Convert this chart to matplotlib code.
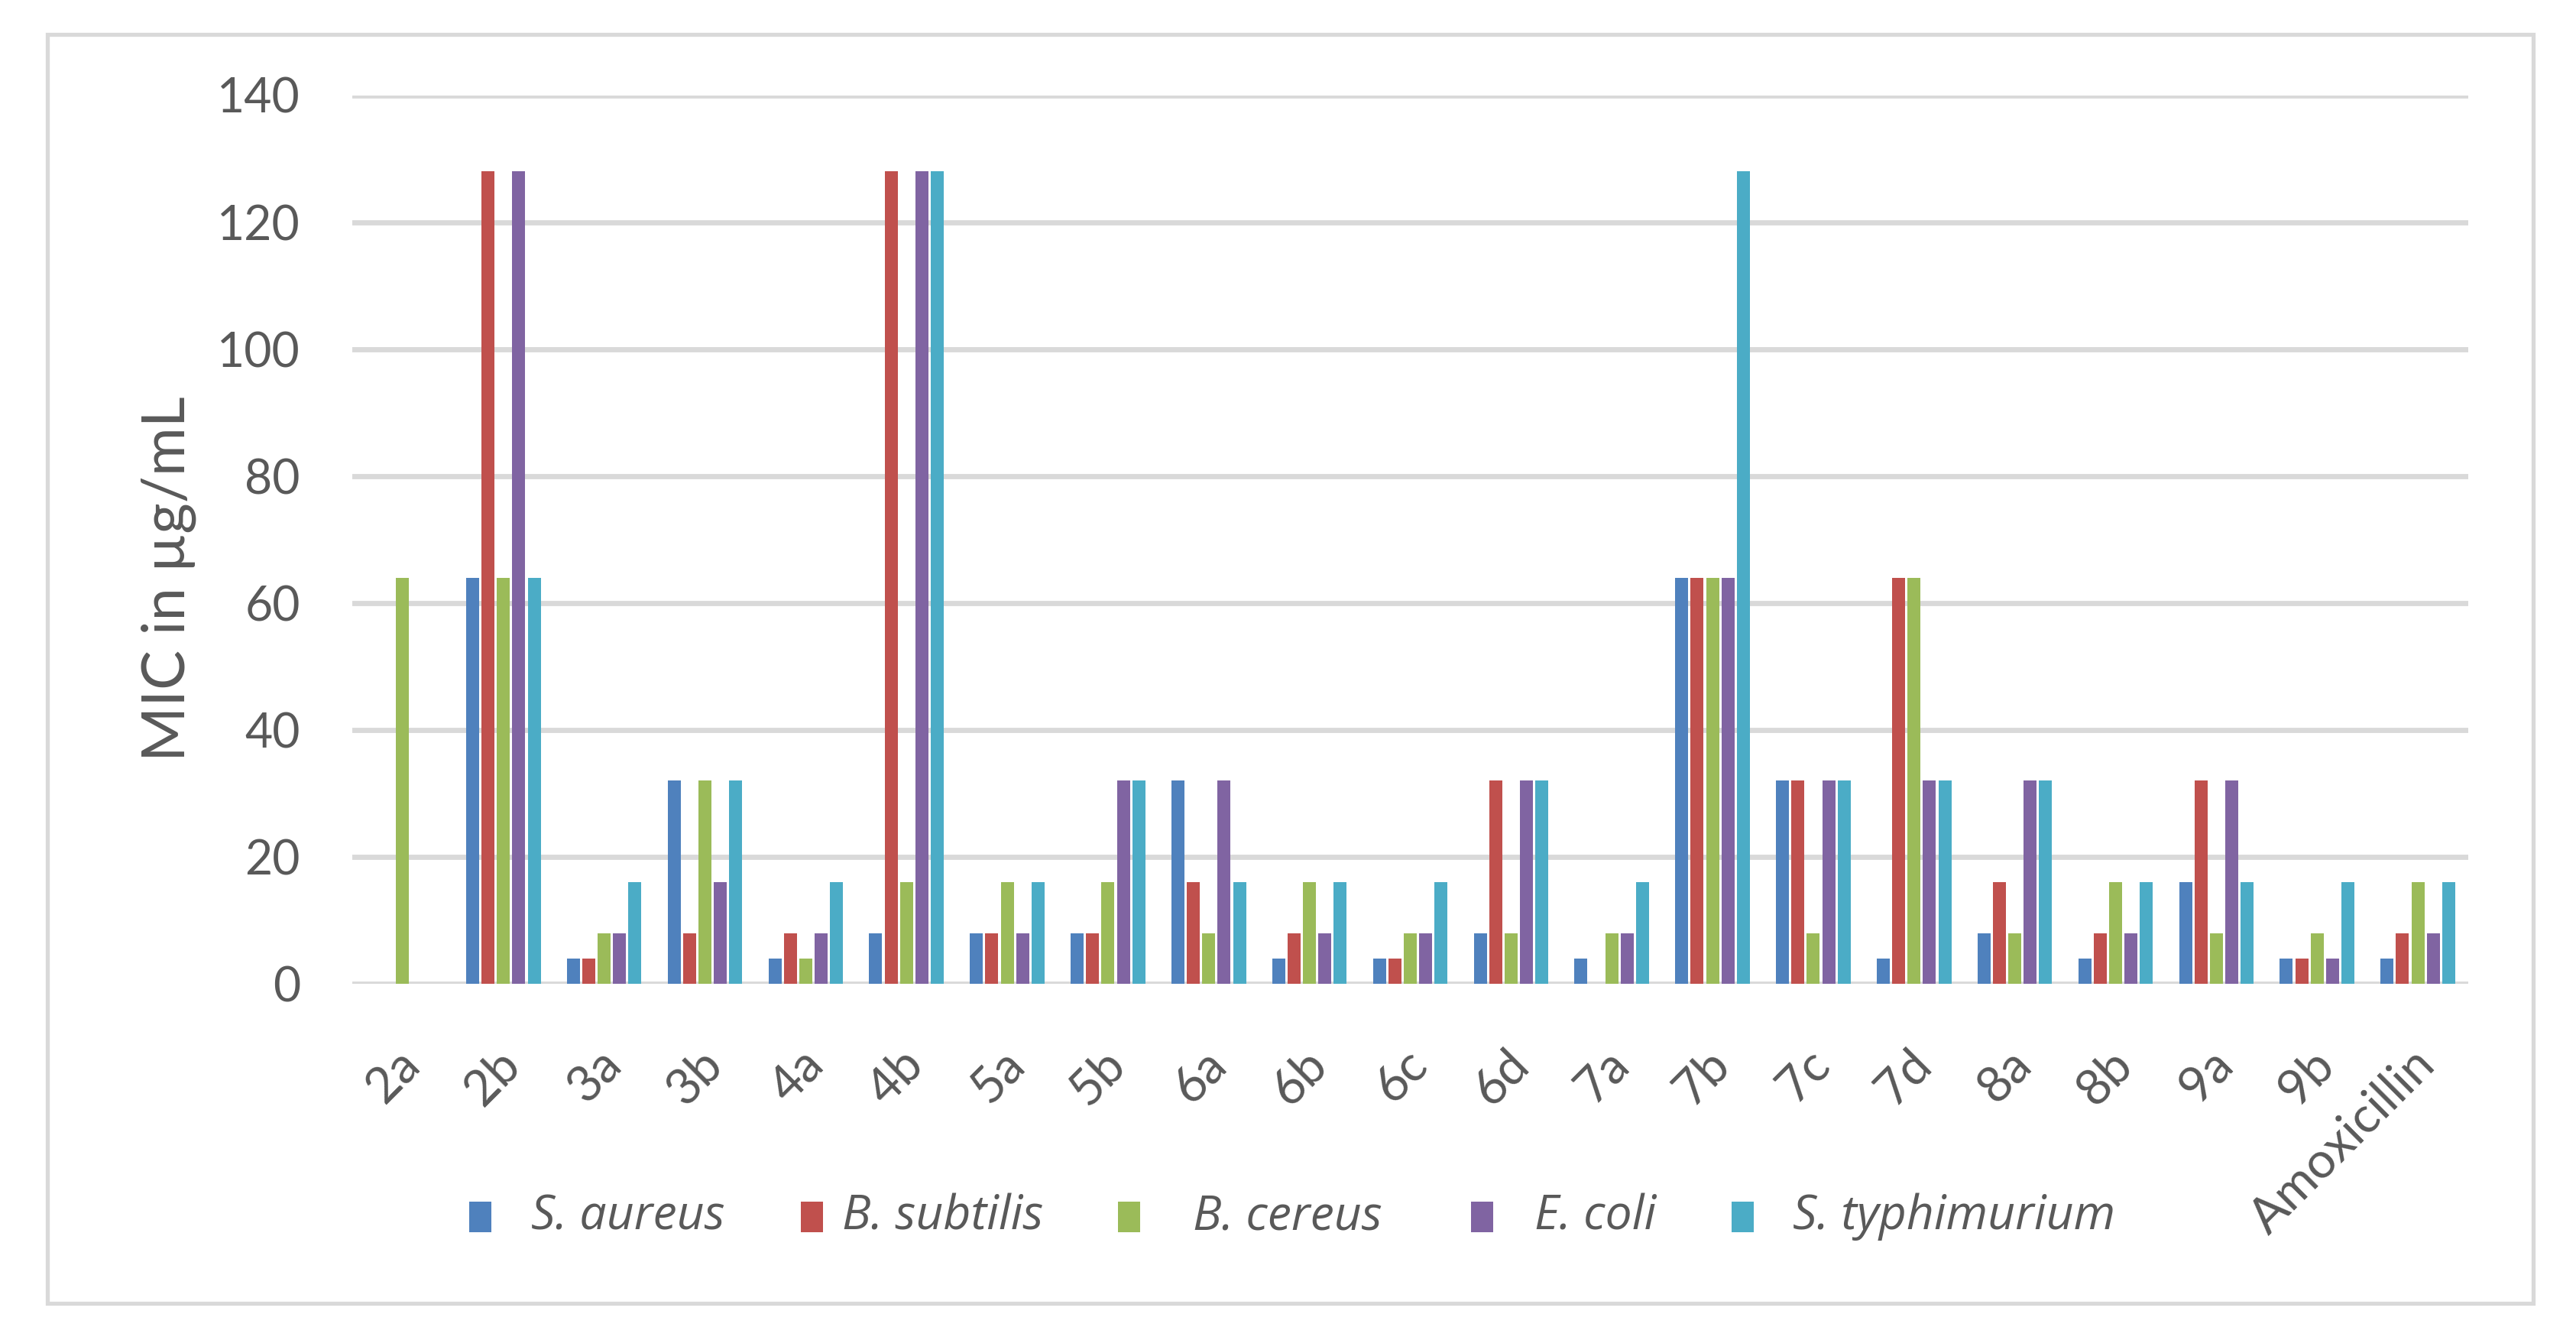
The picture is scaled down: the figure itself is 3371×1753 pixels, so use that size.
import matplotlib
matplotlib.use("Agg")
import matplotlib.pyplot as plt
import matplotlib.transforms as mtransforms
from matplotlib.patches import Rectangle
import numpy as np

compounds = ["2a", "2b", "3a", "3b", "4a", "4b", "5a", "5b", "6a", "6b", "6c",
             "6d", "7a", "7b", "7c", "7d", "8a", "8b", "9a", "9b", "Amoxicillin"]
series_names = ["S. aureus", "B. subtilis", "B. cereus", "E. coli", "S. typhimurium"]
s_aureus      = [0, 64, 4, 32, 4, 8, 8, 8, 32, 4, 4, 8, 4, 64, 32, 4, 8, 4, 16, 4, 4]
b_subtilis    = [0, 128, 4, 8, 8, 128, 8, 8, 16, 8, 4, 32, 0, 64, 32, 64, 16, 8, 32, 4, 8]
b_cereus      = [64, 64, 8, 32, 4, 16, 16, 16, 8, 16, 8, 8, 8, 64, 8, 64, 8, 16, 8, 8, 16]
e_coli        = [0, 128, 8, 16, 8, 128, 8, 32, 32, 8, 8, 32, 8, 64, 32, 32, 32, 8, 32, 4, 8]
s_typhimurium = [0, 64, 16, 32, 16, 128, 16, 32, 16, 16, 16, 32, 16, 128, 32, 32, 32, 16, 16, 16, 16]
y_ticks = [0, 20, 40, 60, 80, 100, 120, 140]

series = [s_aureus, b_subtilis, b_cereus, e_coli, s_typhimurium]
colors = ["#4F81BD", "#C0504D", "#9BBB59", "#8064A2", "#4BACC6"]
text_color = "#595959"
grid_color = "#D9D9D9"

W, H = 3371, 1753
DPI = 100
plt.rcParams["font.family"] = ["Lato", "DejaVu Sans"]

fig = plt.figure(figsize=(W / DPI, H / DPI), dpi=DPI)

# outer chart border
fig.patches.append(Rectangle((62 / W, 1 - 1705 / H), (3315 - 62) / W, (1705 - 45) / H,
                             transform=fig.transFigure, fill=False,
                             edgecolor=grid_color, linewidth=3.8, zorder=0))

ax_left, ax_right = 461 / W, 3230 / W
ax_bottom, ax_top = 1 - 1287 / H, 1 - 124.5 / H
ax = fig.add_axes([ax_left, ax_bottom, ax_right - ax_left, ax_top - ax_bottom])

x = np.arange(len(compounds))
pitch = 0.153
bw = 0.129
for i, (vals, c, name) in enumerate(zip(series, colors, series_names)):
    ax.bar(x + (i - 2) * pitch, vals, width=bw, color=c, label=name, zorder=3)

ax.set_xlim(-0.5, len(compounds) - 0.5)
ax.set_ylim(0, 140)
ax.set_yticks(y_ticks)
ax.yaxis.grid(True, color=grid_color, linewidth=4.9)
ax.set_axisbelow(True)
for s in ax.spines.values():
    s.set_visible(False)
ax.tick_params(axis="y", length=0, pad=49, labelsize=45, labelcolor=text_color)
ax.tick_params(axis="x", length=0, pad=54, labelsize=47, labelcolor=text_color)
ax.set_xticks(x)
ax.set_xticklabels(compounds, rotation=45, ha="right", va="top", rotation_mode="anchor")
offset = mtransforms.ScaledTranslation(-8 / DPI, 0, fig.dpi_scale_trans)
for lbl in ax.get_xticklabels():
    lbl.set_transform(lbl.get_transform() + offset)

fig.text(221 / W, 1 - 757 / H, "MIC in µg/mL", rotation=90, ha="center", va="center",
         fontsize=56, color=text_color)

# legend (manual layout to match the reference spacing)
marker_left = [614, 1048, 1463, 1925, 2266]
text_left = [695, 1102, 1561, 2008, 2346]
for name, c, ml, tl in zip(series_names, colors, marker_left, text_left):
    fig.patches.append(Rectangle((ml / W, 1 - 1612 / H), 29 / W, 40 / H,
                                 transform=fig.transFigure, facecolor=c,
                                 edgecolor="none"))
    fig.text(tl / W, 1 - 1592 / H, name, ha="left", va="center", fontsize=45,
             style="italic", color=text_color, family=["Open Sans", "DejaVu Sans"])

fig.savefig("out.png", dpi=DPI)
